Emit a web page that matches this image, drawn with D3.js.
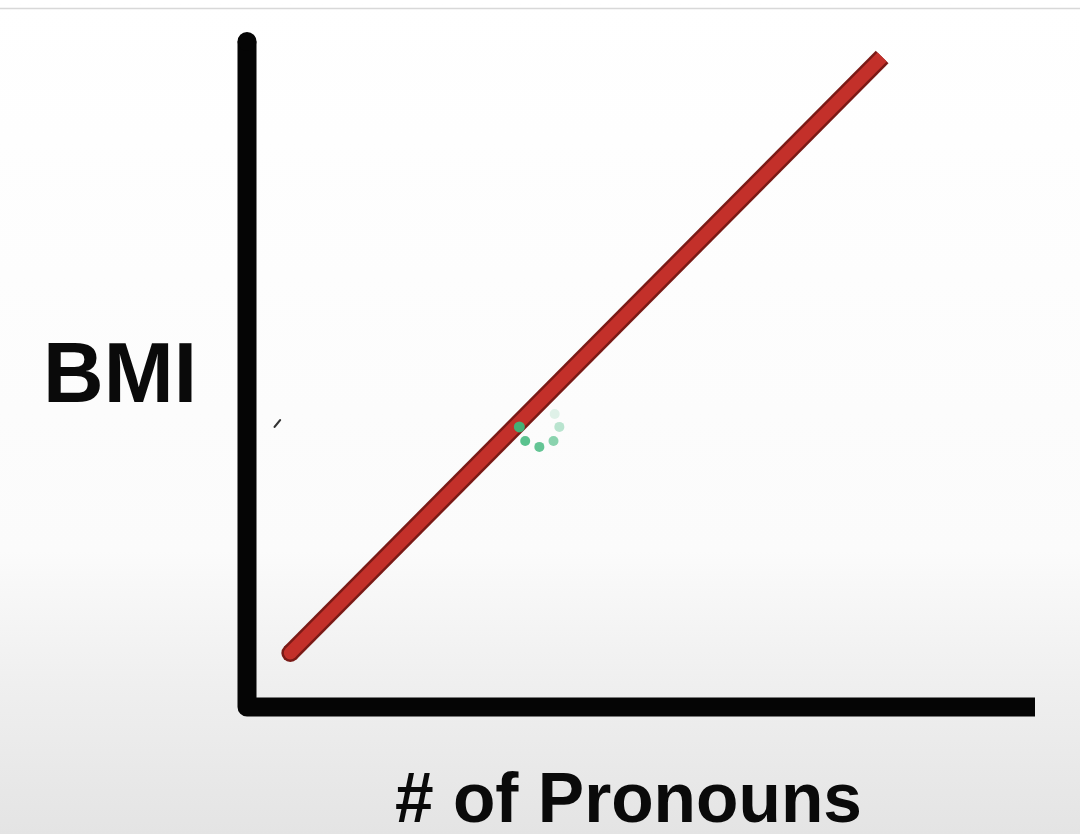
<!DOCTYPE html>
<html>
<head>
<meta charset="utf-8">
<script src="https://cdn.jsdelivr.net/npm/d3@7/dist/d3.min.js"></script>
<style>
  html, body { margin: 0; padding: 0; background: #fff; }
  svg { display: block; }
</style>
</head>
<body>
<svg id="viz"></svg>
<script>
// ----------------------------------------------------------------------------------------------------------------
// DATA

var pronouns = [0.55, 8.06];
var bmi = [0.80, 9.63];
var xLabel = "# of Pronouns";
var yLabel = "BMI";

// loading spinner stuck on the screenshot (angle in degrees, opacity)
var spinAngles = [180, 135, 90, 45, 0, -40];
var spinAlpha = [0.95, 0.85, 0.8, 0.6, 0.35, 0.15];

// ----------------------------------------------------------------------------------------------------------------
// INITIAL SETUP

var w = 1080;
var h = 834;
var viz = d3.select("#viz").attr("width", w).attr("height", h);

var x = d3.scaleLinear().domain([0, 10]).range([247, 1035]);
var y = d3.scaleLinear().domain([0, 10]).range([707, 32]);

// background fade to grey at the bottom
var defs = viz.append("defs");
var grad = defs.append("linearGradient")
  .attr("id", "bg").attr("x1", 0).attr("y1", 0).attr("x2", 0).attr("y2", 1);
grad.append("stop").attr("offset", "0%").attr("stop-color", "#ffffff");
grad.append("stop").attr("offset", "66%").attr("stop-color", "#fbfbfb");
grad.append("stop").attr("offset", "82%").attr("stop-color", "#efefef");
grad.append("stop").attr("offset", "100%").attr("stop-color", "#e4e4e4");

viz.append("rect")
  .attr("width", w).attr("height", h)
  .attr("fill", "url(#bg)");

// thin grey line at the top
viz.append("line")
  .attr("x1", 0).attr("x2", w)
  .attr("y1", 8.5).attr("y2", 8.5)
  .attr("stroke", "#d8d8d8")
  .attr("stroke-width", 1.5);

// ----------------------------------------------------------------------------------------------------------------
// AXES

var x0 = x.range()[0], x1 = x.range()[1];
var y0 = y.range()[0], y1 = y.range()[1];
var axW = 19;

viz.append("path")
  .attr("d", "M" + x0 + "," + (y1 + axW / 2) + "L" + x0 + "," + y0 + "L" + x1 + "," + y0)
  .attr("fill", "none")
  .attr("stroke", "#050505")
  .attr("stroke-width", axW)
  .attr("stroke-linejoin", "round")
  .attr("stroke-linecap", "butt");

viz.append("circle")
  .attr("cx", x0).attr("cy", y1 + axW / 2)
  .attr("r", axW / 2)
  .attr("fill", "#050505");

// ----------------------------------------------------------------------------------------------------------------
// TREND LINE (round start, square top end)

var pts = pronouns.map(function(d, i) { return [x(d), y(bmi[i])]; });
var line = d3.line();

viz.append("path")
  .attr("d", line(pts))
  .attr("fill", "none")
  .attr("stroke", "#7a1a16")
  .attr("stroke-width", 18)
  .attr("stroke-linecap", "butt");
viz.append("circle")
  .attr("cx", pts[0][0]).attr("cy", pts[0][1])
  .attr("r", 9).attr("fill", "#7a1a16");

viz.append("path")
  .attr("d", line(pts))
  .attr("fill", "none")
  .attr("stroke", "#c3302a")
  .attr("stroke-width", 13)
  .attr("stroke-linecap", "butt");
viz.append("circle")
  .attr("cx", pts[0][0]).attr("cy", pts[0][1])
  .attr("r", 6.5).attr("fill", "#c3302a");

// stray pen mark left of the line
viz.append("line")
  .attr("x1", x(0.35)).attr("y1", y(4.15))
  .attr("x2", x(0.42)).attr("y2", y(4.25))
  .attr("stroke", "#333")
  .attr("stroke-width", 2.2)
  .attr("stroke-linecap", "round");

// ----------------------------------------------------------------------------------------------------------------
// SPINNER

var cx = x(3.71), cy = y(4.15), rr = 20;
viz.selectAll("circle.spin")
  .data(spinAngles)
  .enter()
  .append("circle")
  .attr("class", "spin")
  .attr("cx", function(d) { return cx + rr * Math.cos(d * Math.PI / 180); })
  .attr("cy", function(d) { return cy + rr * Math.sin(d * Math.PI / 180); })
  .attr("r", function(d, i) { return i === 0 ? 5.5 : 5; })
  .attr("fill", "#3db77a")
  .attr("opacity", function(d, i) { return spinAlpha[i]; });

// ----------------------------------------------------------------------------------------------------------------
// LABELS

viz.append("text")
  .text(yLabel)
  .attr("x", 43).attr("y", 402)
  .attr("font-family", "Liberation Sans, Arial, sans-serif")
  .attr("font-weight", "bold")
  .attr("font-size", 86)
  .attr("textLength", 154)
  .attr("lengthAdjust", "spacingAndGlyphs")
  .attr("fill", "#0a0a0a");

viz.append("text")
  .text(xLabel)
  .attr("x", 395).attr("y", 822)
  .attr("font-family", "Liberation Sans, Arial, sans-serif")
  .attr("font-weight", "bold")
  .attr("font-size", 70)
  .attr("textLength", 467)
  .attr("lengthAdjust", "spacingAndGlyphs")
  .attr("fill", "#0a0a0a");
</script>
</body>
</html>
